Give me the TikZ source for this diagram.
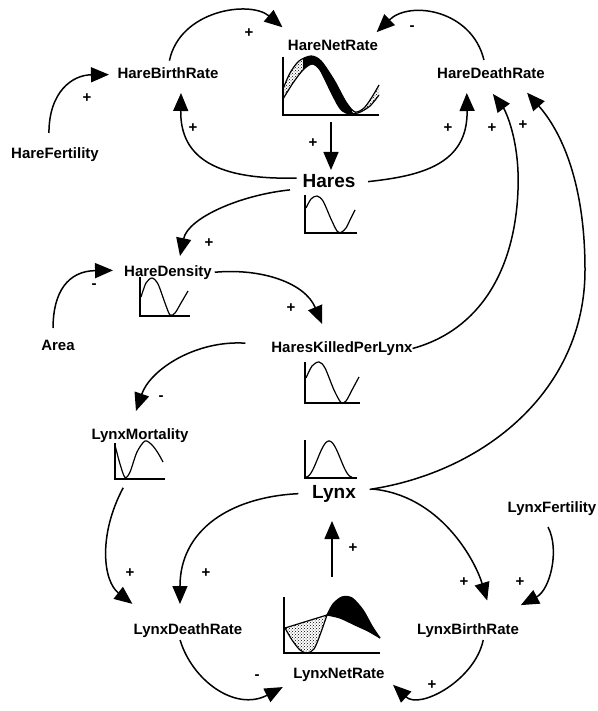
\documentclass[tikz,border=0pt]{standalone}
\usepackage{fontspec}
\setmainfont{Liberation Sans}
\usetikzlibrary{arrows.meta,patterns}
\begin{document}
\begin{tikzpicture}[x=1pt,y=-1pt,
  lbl/.style={font=\fontsize{15}{16}\selectfont\bfseries, inner sep=0pt, outer sep=0pt, text height=11pt, text depth=3pt},
  big/.style={font=\fontsize{19}{20}\selectfont\bfseries, inner sep=0pt, outer sep=0pt, text height=14pt, text depth=4pt},
  sgn/.style={font=\fontsize{15}{15}\selectfont\bfseries, inner sep=0pt},
  gbox/.style={inner sep=0pt, outer sep=0pt},
  link/.style={line width=1.5pt, -{Triangle[length=18pt,width=15pt]}},
  axis/.style={line width=1.4pt},
  trace/.style={line width=1.2pt},
]
\useasboundingbox (0,0) rectangle (597,711);
\fill[white] (0,0) rectangle (597,711);

% ---------- labels ----------
\node[lbl] (hfert) at (55,154.5) {HareFertility};
\node[lbl] (hbr)   at (168,74.5) {HareBirthRate};
\node[lbl] (hnr)   at (333,46.5) {HareNetRate};
\node[lbl] (hdr)   at (491,74.5) {HareDeathRate};
\node[big] (hares) at (329,183) {Hares};
\node[lbl] (hden)  at (168,272.5) {HareDensity};
\node[lbl] (area)  at (58,346.5) {Area};
\node[lbl] (hkpl)  at (342,348.5) {HaresKilledPerLynx};
\node[lbl] (lmort) at (140,435.5) {LynxMortality};
\node[big] (lynx)  at (334,493) {Lynx};
\node[lbl] (lfert) at (552,508.5) {LynxFertility};
\node[lbl] (ldr)   at (188,630.5) {LynxDeathRate};
\node[lbl] (lbr)   at (468,630.5) {LynxBirthRate};
\node[lbl] (lnr)   at (339,674.5) {LynxNetRate};

% ---------- graph frames ----------
\node[gbox, minimum width=96pt, minimum height=58pt] (hnrg)   at (331,86) {};
\node[gbox, minimum width=52pt, minimum height=38pt] (haresg) at (331,214) {};
\node[gbox, minimum width=50pt, minimum height=39pt] (hdeng)  at (165,296.5) {};
\node[gbox, minimum width=55pt, minimum height=41pt] (hkplg)  at (332.5,382.5) {};
\node[gbox, minimum width=52pt, minimum height=38pt] (lynxg)  at (331,459) {};
\node[gbox, minimum width=50pt, minimum height=36pt] (lmortg) at (140,461) {};
\node[gbox, minimum width=96pt, minimum height=56pt] (lnrg)   at (332,625) {};

\foreach \g in {hnrg,haresg,hdeng,hkplg,lynxg,lmortg,lnrg}
  \draw[axis] (\g.north west) |- (\g.south east);

% HareNetRate: band, dark while falling, stippled while rising
\begin{scope}
  \clip plot[smooth] coordinates {(283,89) (290,73) (299,61) (311,56) (321,61) (334,80) (346,102) (355,112) (364,108) (372,97) (379,85)}
     -- plot[smooth] coordinates {(379,95) (370,106) (358,113) (346,113) (339,107) (330,90) (320,70) (312,64) (303,70) (293,83) (283,99)} -- cycle;
  \fill[black] (303,50) rectangle (352,116);
  \fill[pattern=crosshatch dots] (280,50) rectangle (303,116);
  \fill[pattern=crosshatch dots] (352,50) rectangle (382,116);
\end{scope}
\draw[trace] plot[smooth] coordinates {(283,89) (290,73) (299,61) (311,56) (321,61) (334,80) (346,102) (355,112) (364,108) (372,97) (379,85)};
\draw[trace] plot[smooth] coordinates {(379,95) (370,106) (358,113) (346,113) (339,107) (330,90) (320,70) (312,64) (303,70) (293,83) (283,99)};

% Hares
\draw[trace] plot[smooth] coordinates {(306,208) (311,199) (317,196) (323,201) (331,219) (337,231) (341,232.5) (346,228) (350,220) (355,210)};
% HareDensity
\draw[trace] plot[smooth] coordinates {(141,297) (146,283) (152,278) (158,284) (165,303) (170,315) (175,313) (181,303) (188,291)};
% HaresKilledPerLynx
\draw[trace] plot[smooth] coordinates {(306,378) (312,366) (319,362) (325,368) (334,390) (341,402.5) (346,401) (352,390) (359,377)};
% Lynx
\draw[trace] plot[domain=306:352, samples=40] (\x, {477-36*sin(180*(\x-306)/46)^2});
% LynxMortality
\draw[trace] plot[smooth] coordinates {(115.5,447) (120,464) (125,477.5) (130,472) (137,452) (145,441) (152,445) (158,453) (163,462)};

% LynxNetRate
\fill[pattern=crosshatch dots] (285,628) -- (327,615)
  -- plot[smooth] coordinates {(327,615) (320,635) (314,649) (307,653) (300,650) (292,640) (285,628)} -- cycle;
\fill[black] plot[smooth] coordinates {(327,615) (333,604) (342,597) (352,598) (363,610) (372,626) (380,638)}
  -- plot[smooth] coordinates {(380,638) (368,631) (355,625) (340,618) (327,615)} -- cycle;
\draw[trace] (285,628) -- (327,615);
\draw[trace] plot[smooth] coordinates {(327,615) (320,635) (314,649) (307,653) (300,650) (292,640) (285,628)};
\draw[trace] plot[smooth] coordinates {(327,615) (333,604) (342,597) (352,598) (363,610) (372,626) (380,638)};
\draw[trace] plot[smooth] coordinates {(380,638) (368,631) (355,625) (340,618) (327,615)};

% ---------- connectors ----------
\draw[link, shorten <=14.5pt, shorten >=8.6pt] (hfert.131) .. controls (49,92) and (72,75) .. (hbr.west);
\draw[link, shorten <=7pt, shorten >=19pt] (hbr.north) .. controls (180,10) and (250,0) .. (hnr.169);
\draw[link, shorten <=7.7pt, shorten >=10.6pt] (hdr.127) .. controls (472,10) and (410,0) .. (hnr.11);
\draw[link, shorten <=7pt, shorten >=4pt] (hnrg.south) -- (hnrg.south |- hares.north);
\draw[link, shorten <=6pt, shorten >=11.5pt] (hares.169) .. controls (220,180) and (180,160) .. (hbr.-28);
\draw[link, shorten <=12.7pt, shorten >=11.5pt] (hares.east) .. controls (420,176) and (468,165) .. (hdr.196);
\draw[link, shorten >=15.6pt] (hkpl.east) .. controls (480,330) and (515,270) .. (518,190)
  .. controls (520,140) and (505,110) .. (hdr.223);
\draw[link, shorten <=14pt, shorten >=15pt] (lynx.4) .. controls (485,472) and (585,390) .. (585,270)
  .. controls (585,180) and (560,130) .. (hdr.-15);
\draw[link, shorten <=12.7pt, shorten >=9.7pt] (hares.192) .. controls (240,195) and (188,218) .. (hden.35);
\draw[link, shorten <=11.5pt, shorten >=11.2pt] (area.125) .. controls (53,292) and (68,271) .. (hden.177);
\draw[link, shorten <=3pt, shorten >=19pt] (hden.east) .. controls (262,268) and (305,283) .. (hkpl.151);
\draw[link, shorten <=26pt, shorten >=18.5pt] (hkpl.177) .. controls (195,340) and (150,370) .. (lmort.145);
\draw[link, shorten <=10pt, shorten >=32pt] (lmortg.236) .. controls (98,535) and (103,581) .. (ldr.167);
\draw[link, shorten <=13.8pt, shorten >=19.5pt] (lynx.west) .. controls (230,497) and (180,530) .. (ldr.139);
\draw[link, shorten <=2.6pt, shorten >=12pt] (ldr.219) .. controls (192,680) and (235,712) .. (lnr.south west);
\draw[link, shorten <=20pt, shorten >=19pt] (lnrg.north) -- (lnrg.north |- lynx.south);
\draw[link, shorten <=16pt, shorten >=24pt] (lynx.14) .. controls (440,495) and (475,560) .. (lbr.15);
\draw[link, shorten <=13pt, shorten >=40pt] (lfert.215) .. controls (560,550) and (550,590) .. (lbr.22);
\draw[link, shorten <=2.5pt, shorten >=11.6pt] (lbr.-24) .. controls (475,680) and (420,710) .. (lnr.-3);

% ---------- polarity signs ----------
\node[sgn] (s1)  at (87,98) {+};
\node[sgn] (s2)  at (249,33) {+};
\node[sgn] (s3)  at (412,28) {-};
\node[sgn] (s4)  at (313,143) {+};
\node[sgn] (s5)  at (193,128) {+};
\node[sgn] (s6)  at (448,128) {+};
\node[sgn] (s7)  at (492,128) {+};
\node[sgn] (s8)  at (523,125) {+};
\node[sgn] (s9)  at (209,243) {+};
\node[sgn] (s10) at (94,286) {-};
\node[sgn] (s11) at (291,308) {+};
\node[sgn] (s12) at (161,398) {-};
\node[sgn] (s13) at (130,573) {+};
\node[sgn] (s14) at (206,573) {+};
\node[sgn] (s15) at (257,677) {-};
\node[sgn] (s16) at (353,548) {+};
\node[sgn] (s17) at (464,582) {+};
\node[sgn] (s18) at (520,582) {+};
\node[sgn] (s19) at (432,685) {+};
\end{tikzpicture}
\end{document}
